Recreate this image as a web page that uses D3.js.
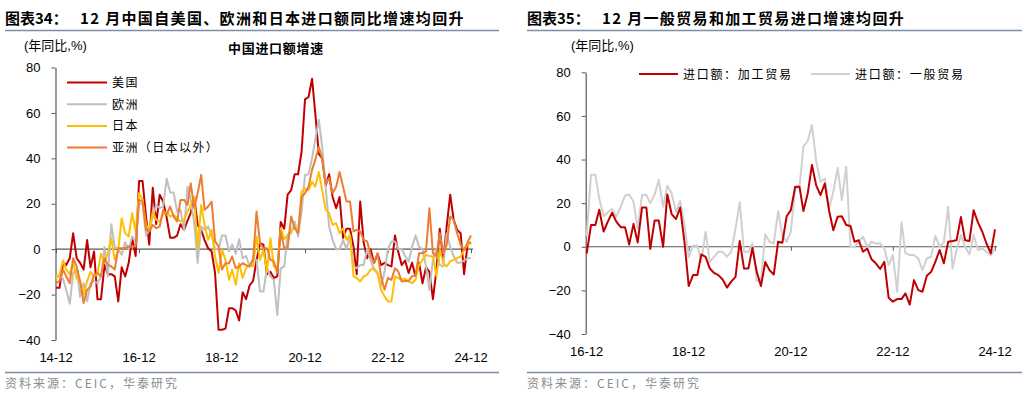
<!DOCTYPE html>
<html>
<head>
<meta charset="utf-8">
<script src="https://cdn.jsdelivr.net/npm/d3@7"></script>
<style>
  body { margin: 0; background: #fff; }
  svg { display: block; font-family: "Liberation Sans", Arial, "Noto Sans CJK SC", sans-serif; }
</style>
</head>
<body>
<svg id="chart" width="1027" height="396"></svg>
<script>
// ---- data: left chart (2014-12 .. 2024-12, monthly yoy %) ----
var leftStart = new Date(2014, 11, 1);
var leftTicks = ['14-12', '16-12', '18-12', '20-12', '22-12', '24-12'];
var leftNames = ['美国', '欧洲', '日本', '亚洲（日本以外）'];
var leftColors = ['#C00000', '#BFBFBF', '#FFC000', '#ED7D31'];

var usa = [-17,-17,-6,-7,-4,7,-4,-6,-9,4,
  -8,-1,-22,-22,-7,-11,-11,-12,-23,-8,
  -12,-6,5,-3,30,30,14,2,27,11,
  24,21,14,5,5,6,11,8.5,12.6,16,
  23,10.7,8.5,4,0.4,-1,-10.5,-35.5,-35.5,-35,
  -26,-26,-27,-31.4,-19,-22,-16,-14,-5,2.6,
  2,-11,-10,-12.7,-12,12,9,24,26,33,
  33,43,66,67,75,60,42,40,28,33,
  23,18,23,5,9,9,1,-11,21,3,
  -4,0,-6,-2,-7,-6,-7,-7.6,6,-1,
  -7,-5,-10.5,-6,-12,-6,-15,-8,-10,-22,
  -9,9,-5,10,24,13,8.5,7,-11,2,
  3];
var europe = [-12,-12,-13,-18,-24,-10.5,-9,-21,-15,-23,
  -15,-14,-15,-12,1,-12,11,1,0,-2.5,
  3,0,5.6,3.4,20,20,6,8.5,14,19.5,
  18,19,31,25,25,16.6,17.3,8.5,27.5,21.7,
  11.4,-6,10,8.5,10,6,0,0,6,6,
  -1,2,-2,4.4,-4,-3,-7.6,-4,-4.7,-18.6,
  -18.6,-8.4,-12,-13.5,-29,-8.4,-7.6,6.3,7,12.2,
  5.6,16.6,32.7,33,40,48,57,45,27,10,
  4,0,0,4,0,6,-7.6,-8.4,-7,-7,
  0,-4.7,-9,-11,-16,-10,0,3.4,3.4,0,
  0,-3,-5.4,1,6,1,0,-7.6,-18,-4.7,
  0,-7,-7.6,7,1,-3,-6,-6,-5,-4,
  -4];
var japan = [-13,-11,-5,-9,-11,-6,-13,-14,-20,-14,
  -10,-12,-11,-2,-6,-1.8,4.8,-4.7,-0.3,13.6,
  7,5.6,15.8,7.8,24.6,21.7,10.7,8.5,16.6,12.9,
  12.2,15.1,16.6,14.4,15,13.6,12.2,12.9,16.6,19.5,
  23.1,0.4,19.5,10.7,4.1,8.5,-3.2,-10.5,-0.3,-4.7,
  -13.5,-9,-15.7,-6.2,-12.7,-8.4,-6.9,-7.6,5.6,-4.7,
  -0.3,-9.8,4.8,-7.6,-8.4,9.2,4.4,6.3,8.5,9.2,
  7.8,25.3,26.8,26,29.7,27.5,34,26,17.3,15.8,
  10.7,11.4,7,9.2,4.1,6.3,-12,-12.7,-14.2,-12,
  -11.3,-9,-8.4,-10.5,-17.9,-20.8,-23,-23,-12,-12.7,
  -13.5,-13,-14.2,-15,-13.5,-6.9,-4.7,-2.5,-3,-3.2,
  -12,-0.3,-6.2,-7.6,-5.4,-4.7,-4,-3.2,-0.3,1.9,
  2.6];
var asia = [-15,-14,-9,-12,-15,-4,-7.6,-14.2,-23.7,-17.9,
  -16.4,-11.3,-10.5,-12,-4,-6.9,-7.6,-9,0.4,0.4,
  0.4,1.2,1.2,1.2,21.7,21,8.5,7.8,10.7,9.2,
  10,17.3,15.1,18.8,14.4,12.2,21.7,21.7,19.5,29,
  18,24.6,32.7,17.3,18.8,21,3.4,1.2,-9,-6.2,
  -6.2,-3.2,-8.4,-7.6,-6.2,-7,-7.6,-4.7,16.6,2.6,
  0.4,0.4,-4.7,-5.4,-10.5,7.8,0.4,0.4,14.4,9.2,
  7,23.1,24.6,27.5,34.9,39.3,45,40,29,31.2,
  24.6,27.5,34,27.5,21,21,7.8,8.5,7.8,4.1,
  3.4,-2.5,-6.2,-1.8,-12,-17.9,-12.7,-13.5,-8.4,-9.8,
  -14.2,-14,-14,-12,-11.3,-1.8,-1.8,-1,18,-1.8,
  -3.2,7,-1.8,1.9,14.4,12.9,7,1.9,-0.3,3,
  6];

// ---- data: right chart (2016-12 .. 2024-12) ----
var rightStart = new Date(2016, 11, 1);
var rightTicks = ['16-12', '18-12', '20-12', '22-12', '24-12'];
var rightNames = ['进口额：加工贸易', '进口额：一般贸易'];
var rightColors = ['#C00000', '#D0D0D0'];

var processing = [-3,10,10,17,7,11.5,15.6,11.5,9,9,
  1,10.5,2,18,18,-1,12,12,0,24,
  15,12.7,18,2,-18,-13,-13,-3.5,-4.6,-10,
  -12,-13,-15,-18.7,-16,-13.8,2.6,-10,-10,-0.5,
  -11.5,-18,-7,-10.7,-12.7,2.3,1.8,14,16.8,27.5,
  27.5,16.4,24.5,37.5,28,23.7,29,16.4,7.6,13.8,
  14,10,9.5,2.3,3,-2.3,-0.8,-5.7,-7.6,-10.2,
  -6.9,-23.4,-25.2,-24,-24,-21.4,-26.5,-15.3,-19.9,-20.6,
  -13.3,-11.5,-6.9,-1.5,-7.6,2.3,2.6,3,13.6,3,
  2.6,16.7,11.2,6.9,1.5,-3,8];
var general = [5,33,33,22,14,15.7,17.3,13.8,18.3,23.4,
  24,20.6,8.4,23.7,23.7,20,24,30.6,18.3,28,
  24.5,16,21,10,-4.6,0.5,0.5,-6.9,6.9,-6.9,
  -4.6,-2.3,-2.3,-4.6,-2.3,8.4,20.3,-2.3,-2.3,1.5,
  -15.7,-15.7,5.7,2.3,1.5,16.4,5.4,2.3,6.9,26.8,
  27.5,45.9,48.5,55.8,39,29.8,31.3,17.6,25.2,36.2,
  21.4,36.7,0,0,2.3,4.6,0,2.3,1.5,1.5,
  -0.8,-8.4,-3.8,-20.6,11.2,-3,-3.8,-3.8,-5.4,-10.7,
  -5.4,-4.6,5,0,2,18.3,-10,-1.5,5.4,0,
  -3.5,5.4,-1.5,-0.8,-2.3,-4,-0.8];

var svg = d3.select('#chart');
var cjk = '"Noto Sans CJK SC", sans-serif';

function dates(start, n) {
  return d3.range(n).map(function(i) { return d3.timeMonth.offset(start, i); });
}
function tickDate(label) {
  var p = label.split('-');
  return new Date(2000 + (+p[0]), +p[1] - 1, 1);
}

// frame: title, rules, source
function frame(x0, x1, fig, title, titleX) {
  svg.append('text').attr('x', x0).attr('y', 24)
    .style('font-family', cjk).style('font-weight', 'bold').style('font-size', '15px')
    .text(fig);
  svg.append('text').attr('x', titleX).attr('y', 24)
    .style('font-family', cjk).style('font-weight', 'bold').style('font-size', '15px')
    .style('letter-spacing', '1.35px')
    .text(title);
  svg.append('line').attr('x1', x0).attr('x2', x1).attr('y1', 30.5).attr('y2', 30.5)
    .attr('stroke', '#7d8ea6').attr('stroke-width', 1.3);
  svg.append('line').attr('x1', x0).attr('x2', x1).attr('y1', 372.5).attr('y2', 372.5)
    .attr('stroke', '#7d8ea6').attr('stroke-width', 1.3);
  svg.append('text').attr('x', x0).attr('y', 388)
    .style('font-family', cjk).style('font-size', '12px').style('letter-spacing', '2px')
    .attr('fill', '#8c8c8c')
    .text('资料来源：CEIC，华泰研究');
}

function panel(opt) {
  var n = opt.series[0].length;
  var ds = dates(opt.start, n);
  var x = d3.scaleTime().domain([ds[0], ds[n - 1]]).range([opt.x0, opt.x1]);
  var y = d3.scaleLinear().domain([-40, 80]).range([opt.yBottom, opt.yTop]);
  var g = svg.append('g');

  // y axis
  var ya = g.append('g').attr('transform', 'translate(' + opt.axisX + ',0)')
    .call(d3.axisLeft(y).tickValues([-40, -20, 0, 20, 40, 60, 80]).tickSize(4).tickSizeOuter(0).tickPadding(11));
  ya.select('.domain').attr('stroke', '#595959').attr('stroke-width', 1.2);
  ya.selectAll('.tick line').attr('stroke', '#595959');
  ya.selectAll('.tick text').attr('fill', '#000').style('font-size', '13px')
    .style('font-family', '"Liberation Sans", Arial, sans-serif');

  // zero line with ticks
  var tv = opt.ticks.map(tickDate);
  var xa = g.append('g').attr('transform', 'translate(0,' + y(0) + ')')
    .call(d3.axisBottom(x).tickValues(tv).tickSize(4).tickSizeOuter(0).tickFormat(''));
  xa.select('.domain').attr('stroke', '#595959').attr('stroke-width', 1.2)
    .attr('d', 'M' + opt.axisX + ',0H' + (opt.x1 + 2));
  xa.selectAll('.tick line').attr('stroke', '#595959');

  // bottom labels
  g.selectAll('.xl').data(opt.ticks).enter().append('text')
    .attr('x', function(d) { return x(tickDate(d)); })
    .attr('y', opt.labelY)
    .attr('text-anchor', 'middle')
    .style('font-size', '13px')
    .text(function(d) { return d; });

  // lines
  var line = d3.line()
    .x(function(d, i) { return x(ds[i]); })
    .y(function(d) { return y(d); });
  opt.order.forEach(function(k) {
    g.append('path').datum(opt.series[k])
      .attr('d', line)
      .attr('fill', 'none')
      .attr('stroke', opt.colors[k])
      .attr('stroke-width', 2)
      .attr('stroke-linejoin', 'round');
  });

  // unit
  g.append('text').attr('x', opt.unitX).attr('y', 50)
    .style('font-size', '13px').style('font-family', '"Liberation Sans", ' + cjk)
    .text('(年同比,%)');
  return g;
}

// ---------------- left ----------------
frame(5, 499, '图表34：', '12 月中国自美国、欧洲和日本进口额同比增速均回升', 80);
var gl = panel({
  start: leftStart, series: [usa, europe, japan, asia], colors: leftColors,
  order: [0, 1, 2, 3], ticks: leftTicks,
  x0: 56, x1: 471, yTop: 67.5, yBottom: 340, axisX: 55.5, labelY: 362, unitX: 24
});
svg.append('text').attr('x', 228).attr('y', 53)
  .style('font-family', cjk).style('font-weight', 'bold').style('font-size', '13px')
  .style('letter-spacing', '0.7px')
  .text('中国进口额增速');
var leg = svg.append('g');
leftNames.forEach(function(name, i) {
  var yy = 82.5 + i * 21.7;
  leg.append('line').attr('x1', 67).attr('x2', 107).attr('y1', yy).attr('y2', yy)
    .attr('stroke', leftColors[i]).attr('stroke-width', 2);
  leg.append('text').attr('x', 112).attr('y', yy + 4.5)
    .style('font-family', cjk).style('font-size', '12px').style('letter-spacing', '1.4px')
    .text(name);
});

// ---------------- right ----------------
frame(527, 1022, '图表35：', '12 月一般贸易和加工贸易进口增速均回升', 602);
var gr = panel({
  start: rightStart, series: [processing, general], colors: rightColors,
  order: [1, 0], ticks: rightTicks,
  x0: 586.7, x1: 995, yTop: 72.3, yBottom: 334, axisX: 585.7, labelY: 356, unitX: 571
});
var legR = svg.append('g');
[[639, 683], [811, 855]].forEach(function(p, i) {
  legR.append('line').attr('x1', p[0]).attr('x2', p[0] + 39).attr('y1', 74).attr('y2', 74)
    .attr('stroke', rightColors[i]).attr('stroke-width', 2);
  legR.append('text').attr('x', p[1]).attr('y', 78.5)
    .style('font-family', cjk).style('font-size', '12px').style('letter-spacing', '1.7px')
    .text(rightNames[i]);
});
</script>
</body>
</html>
